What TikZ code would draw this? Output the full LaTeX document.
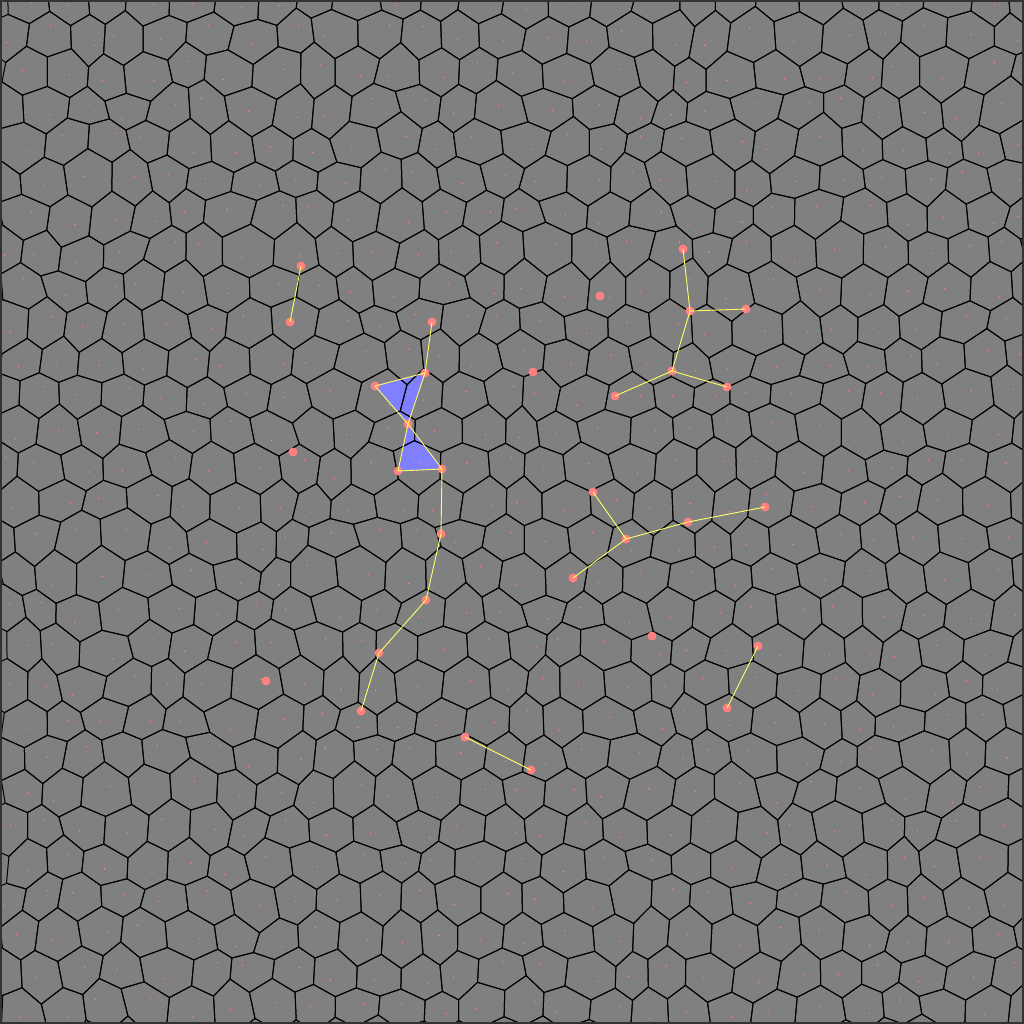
\documentclass[tikz,border=0pt]{standalone}
\definecolor{bg}{RGB}{128,128,128}
\definecolor{dotc}{RGB}{255,128,128}
\definecolor{linec}{RGB}{255,255,100}
\definecolor{trif}{RGB}{128,128,255}
\begin{document}
\begin{tikzpicture}[x=1pt,y=-1pt,
  cell/.style={draw=black,line width=1pt,line join=round},
  seed/.style={fill=dotc},
  bigdot/.style={fill=dotc},
  link/.style={draw=linec,line width=0.9pt},
  tri/.style={fill=trif}]
\useasboundingbox (0,0) rectangle (1024,1024);
\fill[bg] (0,0) rectangle (1024,1024);
% jittered seed lattice
\pgfmathsetseed{11}
\foreach \j in {0,...,31}{\foreach \i in {0,...,27}{
  \pgfmathsetmacro\sx{(\i-1)*42+mod(\j,2)*21+rand*12}
  \pgfmathsetmacro\sy{(\j-1)*36+rand*11}
  \coordinate (s-\i-\j) at (\sx,\sy);
}}
% overlay points
\coordinate (a1) at (301,266); \coordinate (a2) at (290,322);
\coordinate (b1) at (432,322); \coordinate (b2) at (425,373);
\coordinate (b3) at (375,386); \coordinate (b4) at (408,424);
\coordinate (b5) at (398,471); \coordinate (b6) at (442,469);
\coordinate (b7) at (441,534); \coordinate (b8) at (426,600);
\coordinate (b9) at (379,653); \coordinate (b10) at (361,711);
\coordinate (c1) at (683,249); \coordinate (c2) at (690,311);
\coordinate (c3) at (746,309); \coordinate (c4) at (672,371);
\coordinate (c5) at (727,387); \coordinate (c6) at (615,396);
\coordinate (d1) at (593,492); \coordinate (d2) at (626,539);
\coordinate (d3) at (688,522); \coordinate (d4) at (765,507);
\coordinate (d5) at (573,578);
\coordinate (e1) at (758,646); \coordinate (e2) at (727,708);
\coordinate (f1) at (465,737); \coordinate (f2) at (531,770);
\coordinate (g1) at (600,296); \coordinate (g2) at (533,372);
\coordinate (g3) at (293,452); \coordinate (g4) at (266,681);
\coordinate (g5) at (652,636);
% triangles
\fill[tri] (b3) -- (b2) -- (b4) -- cycle;
\fill[tri] (b4) -- (b5) -- (b6) -- cycle;
% cells
\begin{scope}
\clip (0,0) rectangle (1024,1024);
\foreach \j in {1,...,30}{\foreach \i in {1,...,26}{
  \pgfmathtruncatemacro\p{mod(\j,2)}
  \pgfmathtruncatemacro\r{\i+\p}
  \pgfmathtruncatemacro\l{\i-1+\p}
  \pgfmathtruncatemacro\ip{\i+1}
  \pgfmathtruncatemacro\im{\i-1}
  \pgfmathtruncatemacro\jp{\j+1}
  \pgfmathtruncatemacro\jm{\j-1}
  \draw[cell]
    (barycentric cs:s-\i-\j=1,s-\ip-\j=1,s-\r-\jp=1) --
    (barycentric cs:s-\i-\j=1,s-\r-\jp=1,s-\l-\jp=1) --
    (barycentric cs:s-\i-\j=1,s-\l-\jp=1,s-\im-\j=1) --
    (barycentric cs:s-\i-\j=1,s-\im-\j=1,s-\l-\jm=1) --
    (barycentric cs:s-\i-\j=1,s-\l-\jm=1,s-\r-\jm=1) --
    (barycentric cs:s-\i-\j=1,s-\r-\jm=1,s-\ip-\j=1) -- cycle;
  \fill[seed] (s-\i-\j) circle (0.8);
}}
\end{scope}
% big dots
\foreach \n in {a1,a2,b1,b2,b3,b4,b5,b6,b7,b8,b9,b10,c1,c2,c3,c4,c5,c6,d1,d2,d3,d4,d5,e1,e2,f1,f2,g1,g2,g3,g4,g5}
  \fill[bigdot] (\n) circle (4.5);
% links
\draw[link] (a1) -- (a2);
\draw[link] (b1) -- (b2) -- (b4);
\draw[link] (b3) -- (b2);
\draw[link] (b3) -- (b4) -- (b5) -- (b6) -- (b4);
\draw[link] (b6) -- (b7) -- (b8) -- (b9) -- (b10);
\draw[link] (c1) -- (c2) -- (c3);
\draw[link] (c2) -- (c4) -- (c5);
\draw[link] (c4) -- (c6);
\draw[link] (d1) -- (d2) -- (d3) -- (d4);
\draw[link] (d2) -- (d5);
\draw[link] (e1) -- (e2);
\draw[link] (f1) -- (f2);
\draw[line width=2pt,draw=black!80] (1,1) rectangle (1023,1023);
\end{tikzpicture}
\end{document}
